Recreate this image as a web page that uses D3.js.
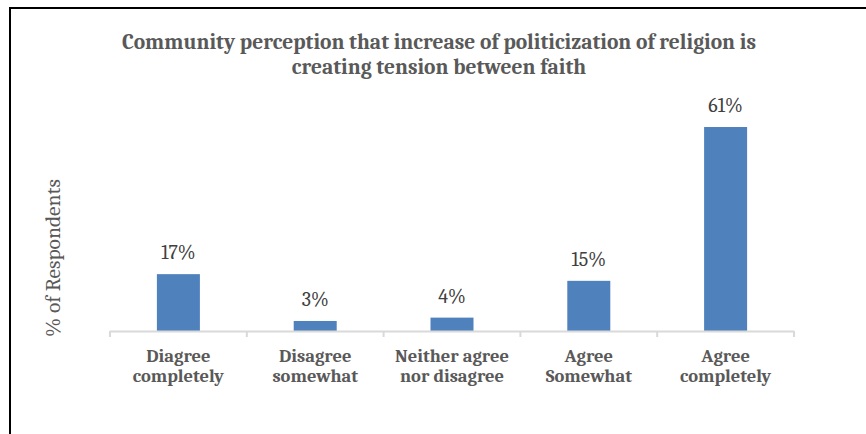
<!DOCTYPE html>
<html><head><meta charset="utf-8">
<script src="https://cdn.jsdelivr.net/npm/d3@7"></script>
<style>body{margin:0;background:#fff}svg{display:block}</style>
</head><body>
<script>
const categories = [["Diagree","completely"],["Disagree","somewhat"],["Neither agree","nor disagree"],["Agree","Somewhat"],["Agree","completely"]];
const values = [17, 3, 4, 15, 61];
const valueLabels = ["17%","3%","4%","15%","61%"];
const titleLines = ["Community perception that increase of politicization of religion is","creating tension between faith"];
const yTitle = "% of Respondents";

const W = 866, H = 434;
const svg = d3.select("body").append("svg").attr("width", W).attr("height", H);
svg.append("rect").attr("x",0).attr("y",0).attr("width",W).attr("height",H).attr("fill","#fff");
// border
svg.append("path").attr("d","M10,440 L10,8 L870,8").attr("fill","none").attr("stroke","#000").attr("stroke-width",2);

const font = "Cambria, Caladea, 'Liberation Serif', serif";
const x = d3.scaleBand().domain(d3.range(categories.length)).range([110, 794]).paddingInner(0).paddingOuter(0);
const y = d3.scaleLinear().domain([0, 70]).range([331, 331 - 70*3.344]);
const bw = 43;

svg.selectAll("rect.bar").data(values).join("rect").attr("class","bar")
  .attr("x",(d,i)=>x(i)+x.bandwidth()/2-bw/2).attr("width",bw)
  .attr("y",d=>y(d)).attr("height",d=>y(0)-y(d)).attr("fill","#4F81BD");

const axis = d3.axisBottom(x).tickSize(0).tickFormat("");
const ag = svg.append("g").attr("transform","translate(0,331)").call(axis);
ag.select(".domain").remove();
ag.append("line").attr("x1",110).attr("x2",794).attr("y1",0.5).attr("y2",0.5).attr("stroke","#d9d9d9").attr("stroke-width",2);
const tickPos = d3.range(categories.length+1).map(i=> i<categories.length ? x(i) : x(i-1)+x.bandwidth());
ag.selectAll("line.tk").data(tickPos).join("line").attr("class","tk")
  .attr("x1",d=>d).attr("x2",d=>d).attr("y1",0).attr("y2",6).attr("stroke","#d9d9d9").attr("stroke-width",2);

// category labels
const cl = svg.selectAll("text.cat").data(categories).join("text").attr("class","cat")
  .attr("text-anchor","middle").attr("font-family",font).attr("font-weight","bold")
  .attr("font-size",18.5).attr("fill","#595959");
cl.each(function(d,i){
  const t = d3.select(this);
  d.forEach((s,j)=>t.append("tspan").attr("x",x(i)+x.bandwidth()/2).attr("y",362+j*20).text(s));
});

// value labels
svg.selectAll("text.val").data(values).join("text").attr("class","val")
  .attr("x",(d,i)=>x(i)+x.bandwidth()/2).attr("y",d=>y(d)-15)
  .attr("text-anchor","middle").attr("font-family",font).attr("font-size",20).attr("fill","#404040")
  .text((d,i)=>valueLabels[i]);

// title
svg.selectAll("text.title").data(titleLines).join("text").attr("class","title")
  .attr("x",439).attr("y",(d,i)=>49+i*24.5).attr("text-anchor","middle")
  .attr("font-family",font).attr("font-weight","bold").attr("font-size",21.5).attr("fill","#595959").text(d=>d);

// y title
svg.append("text").attr("transform","translate(60,258) rotate(-90)").attr("text-anchor","middle")
  .attr("font-family",font).attr("font-size",21.5).attr("fill","#595959").text(yTitle);
</script>
</body></html>
